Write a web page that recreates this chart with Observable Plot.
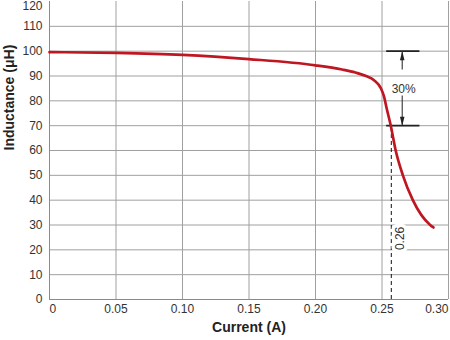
<!DOCTYPE html>
<html>
<head>
<meta charset="utf-8">
<script src="https://cdn.jsdelivr.net/npm/d3@7"></script>
<script src="https://cdn.jsdelivr.net/npm/@observablehq/plot@0.6"></script>
<style>
  html, body { margin: 0; padding: 0; background: #fff; }
  #chart { width: 450px; height: 340px; }
</style>
</head>
<body>
<div id="chart"></div>
<script>
// ---- data ----
const current    = [0, 0.05, 0.10, 0.15, 0.20, 0.22, 0.23, 0.238, 0.244, 0.249, 0.2515, 0.2535, 0.2566, 0.2603, 0.2657, 0.2732, 0.2862, 0.2887];
const inductance = [99.6, 99.3, 98.5, 96.8, 94.3, 92.6, 91.4, 90, 88.3, 85.2, 81.8, 77, 70, 60, 50, 40, 30, 29];

const xTicks      = [0, 0.05, 0.10, 0.15, 0.20, 0.25, 0.30];
const xTickLabels = ["0", "0.05", "0.10", "0.15", "0.20", "0.25", "0.30"];
const yTicks      = [0, 10, 20, 30, 40, 50, 60, 70, 80, 90, 100, 110, 120];

const satCurrent   = 0.257;      // dashed marker
const satLabel     = "0.26";
const satLabelPos  = [0.2634, 24.6];
const dropLevels   = [100, 70];  // 30% drop brackets
const dropSpan     = [0.2535, 0.2785];
const dropArrowX   = 0.2652;
const dropLabel    = "30%";
const dropLabelY   = 84.7;
const arrowShafts  = [[100, 92.4], [81.9, 70]];

const xLabel = "Current (A)";
const yLabel = "Inductance (\u03bcH)";

// ---- derived tables ----
const curve = current.map((c, i) => ({c, L: inductance[i]}));
const xt = xTicks.map((v, i) => ({v, t: xTickLabels[i], i}));
const font = "'Liberation Sans', Arial, Helvetica, sans-serif";

// narrow filled arrowhead, tip at origin, pointing up
const arrowHead = {
  draw(ctx) {
    ctx.moveTo(0, 0);
    ctx.lineTo(-2.3, 9);
    ctx.lineTo(2.3, 9);
    ctx.closePath();
  }
};

const chart = Plot.plot({
  width: 450,
  height: 340,
  marginLeft: 49,
  marginRight: 2,
  marginTop: 1,
  marginBottom: 41,
  style: {fontFamily: font, background: "#fff", overflow: "visible"},
  x: {domain: [0, 0.30], axis: null},
  y: {domain: [0, 120], axis: null},
  marks: [
    // grid
    Plot.ruleX(xTicks.filter(v => v > 0), {stroke: "#a0a0a0", strokeWidth: 1}),
    Plot.ruleY(yTicks.filter(v => v > 0 && v < 120), {stroke: "#a0a0a0", strokeWidth: 1}),
    // axis lines
    Plot.ruleX([0], {stroke: "#8a8a8a", strokeWidth: 1}),
    Plot.ruleY([0], {stroke: "#8a8a8a", strokeWidth: 1}),

    // dashed saturation line
    Plot.ruleX([satCurrent], {y1: 0, y2: 70, stroke: "#111", strokeWidth: 1, strokeDasharray: "4,3"}),
    // label 0.26 (with white halo to break gridlines)
    Plot.text([satLabel], {
      x: () => satLabelPos[0], y: () => satLabelPos[1], text: d => d,
      rotate: -90, fontSize: 12, fill: "#333", stroke: "#fff", strokeWidth: 7,
      fontFamily: font
    }),

    // bracket lines at 100 and 70
    Plot.ruleY(dropLevels, {x1: dropSpan[0], x2: dropSpan[1], stroke: "#222", strokeWidth: 1.6}),
    // arrow shafts
    Plot.ruleX(arrowShafts, {x: () => dropArrowX, y1: d => d[0], y2: d => d[1], stroke: "#333", strokeWidth: 1.1}),
    // arrow heads
    Plot.dot(dropLevels, {
      x: () => dropArrowX, y: d => d, symbol: arrowHead, r: 4,
      rotate: d => d === dropLevels[0] ? 0 : 180, fill: "#222", stroke: "none"
    }),
    Plot.text([dropLabel], {x: () => dropArrowX, y: () => dropLabelY, text: d => d, fontSize: 12, fill: "#333", dx: 1.5}),

    // the curve
    Plot.line(curve, {x: "c", y: "L", stroke: "#bf1722", strokeWidth: 2.7, curve: "monotone-x"}),

    // y tick labels
    Plot.text(yTicks.filter(v => v < 120), {
      x: () => 0, y: d => d, text: d => String(d), textAnchor: "end", dx: -7,
      fontSize: 12, fill: "#333"
    }),
    Plot.text(yTicks.filter(v => v === 120), {
      x: () => 0, y: d => d, text: d => String(d), textAnchor: "end", dx: -7, dy: 4.5,
      fontSize: 12, fill: "#333"
    }),
    // x tick labels
    Plot.text(xt.filter(d => d.i === 0), {x: "v", text: "t", frameAnchor: "bottom", lineAnchor: "top", dy: 5, textAnchor: "start", fontSize: 12, fill: "#333"}),
    Plot.text(xt.filter(d => d.i > 0 && d.i < xt.length - 1), {x: "v", text: "t", frameAnchor: "bottom", lineAnchor: "top", dy: 5, textAnchor: "middle", fontSize: 12, fill: "#333"}),
    Plot.text(xt.filter(d => d.i === xt.length - 1), {x: "v", text: "t", frameAnchor: "bottom", lineAnchor: "top", dy: 5, textAnchor: "end", fontSize: 12, fill: "#333"}),

    // axis titles
    Plot.text([xLabel], {frameAnchor: "bottom", text: d => d, dy: 32, fontSize: 14, fontWeight: "bold", fill: "#222"}),
    Plot.text([yLabel], {frameAnchor: "left", text: d => d, dx: -40, rotate: -90, fontSize: 14, fontWeight: "bold", fill: "#222"})
  ]
});

document.getElementById("chart").appendChild(chart);
</script>
</body>
</html>
